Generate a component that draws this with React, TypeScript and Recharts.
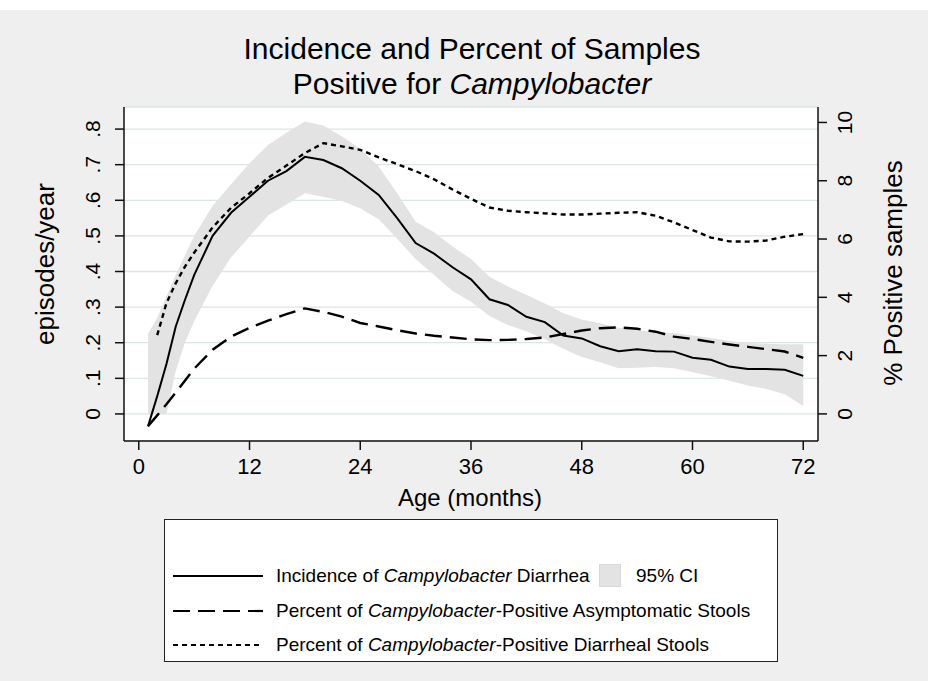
import React from 'react';
import {
  Area,
  CartesianGrid,
  ComposedChart,
  Label,
  Legend,
  Line,
  XAxis,
  YAxis,
} from 'recharts';

// age in months
const months = [1, 2, 3, 4, 5, 6, 8, 10, 12, 14, 16, 18, 20, 22, 24, 26, 28, 30, 32, 34, 36, 38, 40, 42, 44, 46, 48, 50, 52, 54, 56, 58, 60, 62, 64, 66, 68, 70, 72];

// episodes/year (left axis)
const incidence = [-0.035, 0.05, 0.14, 0.245, 0.32, 0.39, 0.5, 0.565, 0.61, 0.655, 0.682, 0.722, 0.713, 0.69, 0.655, 0.615, 0.55, 0.48, 0.45, 0.412, 0.378, 0.322, 0.306, 0.273, 0.258, 0.22, 0.212, 0.19, 0.176, 0.182, 0.176, 0.175, 0.158, 0.152, 0.133, 0.126, 0.126, 0.124, 0.107];
const ciLow = [0, 0, 0, 0.12, 0.2, 0.26, 0.36, 0.44, 0.498, 0.557, 0.588, 0.62, 0.61, 0.598, 0.578, 0.547, 0.492, 0.435, 0.39, 0.345, 0.315, 0.275, 0.25, 0.232, 0.21, 0.183, 0.16, 0.145, 0.128, 0.13, 0.132, 0.128, 0.118, 0.106, 0.093, 0.08, 0.07, 0.055, 0.022];
const ciHigh = [0.225, 0.27, 0.33, 0.39, 0.445, 0.5, 0.585, 0.645, 0.704, 0.755, 0.79, 0.821, 0.81, 0.78, 0.745, 0.695, 0.62, 0.54, 0.51, 0.47, 0.435, 0.385, 0.358, 0.335, 0.31, 0.283, 0.265, 0.255, 0.242, 0.235, 0.23, 0.227, 0.22, 0.213, 0.205, 0.199, 0.197, 0.196, 0.196];

// % positive samples (right axis)
const asymptomatic = [-0.42, -0.05, 0.33, 0.73, 1.14, 1.55, 2.2, 2.65, 2.95, 3.2, 3.42, 3.62, 3.5, 3.34, 3.12, 3.0, 2.87, 2.76, 2.68, 2.62, 2.56, 2.53, 2.54, 2.57, 2.62, 2.74, 2.86, 2.94, 2.97, 2.92, 2.82, 2.65, 2.57, 2.47, 2.38, 2.3, 2.22, 2.14, 1.92];
const diarrheal = [null, 2.7, 3.8, 4.48, 5.05, 5.53, 6.4, 7.07, 7.57, 8.1, 8.52, 8.95, 9.29, 9.18, 9.06, 8.8, 8.57, 8.33, 8.05, 7.7, 7.38, 7.08, 6.97, 6.92, 6.88, 6.84, 6.84, 6.87, 6.9, 6.92, 6.8, 6.57, 6.31, 6.05, 5.92, 5.91, 5.95, 6.08, 6.17];

const xTicks = [0, 12, 24, 36, 48, 60, 72];
const leftTicks = [0, 0.1, 0.2, 0.3, 0.4, 0.5, 0.6, 0.7, 0.8];
const rightTicks = [0, 2, 4, 6, 8, 10];

const rows = months.map((m, i) => ({
  month: m,
  inc: incidence[i],
  ci: [ciLow[i], ciHigh[i]],
  asym: asymptomatic[i],
  diar: diarrheal[i],
}));

const FONT = '"Liberation Sans", Arial, Helvetica, sans-serif';
const BG = '#efefef';
const BAND = '#e3e3e3';

function fmtLeft(v: number) {
  if (v === 0) return '0';
  return v.toFixed(1).replace(/^0/, '');
}

function LeftTick(props: any) {
  const { x, y, payload } = props;
  return (
    <text x={x} y={y} transform={`rotate(-90, ${x}, ${y})`} textAnchor="middle" fontSize={21} fill="#000">
      {fmtLeft(payload.value)}
    </text>
  );
}

function RightTick(props: any) {
  const { x, y, payload } = props;
  return (
    <text x={x} y={y} transform={`rotate(-90, ${x}, ${y})`} textAnchor="middle" fontSize={21} fill="#000">
      {payload.value}
    </text>
  );
}

function LeftTitle(props: any) {
  const vb = props.viewBox;
  const x = vb.x + 54;
  const y = vb.y + vb.height / 2 - 10;
  return (
    <text x={x} y={y} transform={`rotate(-90, ${x}, ${y})`} textAnchor="middle" fontSize={26} fill="#000">
      episodes/year
    </text>
  );
}

function RightTitle(props: any) {
  const vb = props.viewBox;
  const x = vb.x + 84;
  const y = vb.y + vb.height / 2 - 1;
  return (
    <text x={x} y={y} transform={`rotate(-90, ${x}, ${y})`} textAnchor="middle" fontSize={26} fill="#000">
      % Positive samples
    </text>
  );
}

function BottomTitle(props: any) {
  const vb = props.viewBox;
  return (
    <text x={vb.x + vb.width / 2 - 1} y={vb.y + 65} textAnchor="middle" fontSize={24} fill="#000">
      Age (months)
    </text>
  );
}

const legendRows = [
  { top: 56, dash: undefined, label: <>Incidence of <i>Campylobacter</i> Diarrhea</> },
  { top: 91, dash: '17 8', label: <>Percent of <i>Campylobacter</i>-Positive Asymptomatic Stools</> },
  { top: 125, dash: '5 4', label: <>Percent of <i>Campylobacter</i>-Positive Diarrheal Stools</> },
];

function LegendBox() {
  return (
    <div
      style={{
        position: 'relative',
        width: '100%',
        height: '100%',
        boxSizing: 'border-box',
        background: '#fff',
        border: '1.5px solid #222',
        fontFamily: FONT,
        fontSize: 19,
        color: '#000',
      }}
    >
      {legendRows.map((r, i) => (
        <div key={i} style={{ position: 'absolute', left: 0, top: r.top - 12, height: 24, width: '100%' }}>
          <svg width={92} height={24} style={{ position: 'absolute', left: 8, top: 0 }}>
            <line x1={0} y1={12} x2={90} y2={12} stroke="#000" strokeWidth={2.2} strokeDasharray={r.dash} />
          </svg>
          <span style={{ position: 'absolute', left: 111, top: 0, lineHeight: '24px', whiteSpace: 'nowrap' }}>{r.label}</span>
        </div>
      ))}
      <div
        style={{
          position: 'absolute',
          left: 434,
          top: 44,
          width: 20,
          height: 21,
          background: BAND,
          border: '1px solid #d8d8d8',
        }}
      />
      <span style={{ position: 'absolute', left: 471, top: 44, lineHeight: '24px' }}>95% CI</span>
    </div>
  );
}

export default function App() {
  return (
    <div style={{ position: 'absolute', left: 0, top: 0, width: 928, height: 681, background: BG, fontFamily: FONT }}>
      <div style={{ position: 'absolute', left: 0, top: 0, width: 928, height: 10, background: '#fff' }} />
      <div style={{ position: 'absolute', left: 0, top: 0 }}>
        <ComposedChart width={928} height={681} data={rows} margin={{ top: 107, right: 0, bottom: 0, left: 0 }}>
          <CartesianGrid yAxisId="left" vertical={false} stroke="#dae6e7" strokeWidth={1.3} fill="#fff" fillOpacity={1} />
          <XAxis
            dataKey="month"
            type="number"
            domain={[-1.6, 73.6]}
            ticks={xTicks}
            interval={0}
            allowDataOverflow
            height={240}
            tickSize={9}
            tickMargin={8}
            axisLine={{ stroke: '#111', strokeWidth: 1.5 }}
            tickLine={{ stroke: '#111', strokeWidth: 1.5 }}
            tick={{ fontSize: 22, fill: '#000' }}
          >
            <Label content={BottomTitle} />
          </XAxis>
          <YAxis
            yAxisId="left"
            width={124}
            domain={[-0.076, 0.862]}
            ticks={leftTicks}
            interval={0}
            allowDataOverflow
            tickSize={9}
            tickMargin={15}
            axisLine={{ stroke: '#111', strokeWidth: 1.5 }}
            tickLine={{ stroke: '#111', strokeWidth: 1.5 }}
            tick={LeftTick}
          >
            <Label content={LeftTitle} />
          </YAxis>
          <YAxis
            yAxisId="right"
            orientation="right"
            width={110}
            domain={[-0.93, 10.53]}
            ticks={rightTicks}
            interval={0}
            allowDataOverflow
            tickSize={9}
            tickMargin={25}
            axisLine={{ stroke: '#111', strokeWidth: 1.5 }}
            tickLine={{ stroke: '#111', strokeWidth: 1.5 }}
            tick={RightTick}
          >
            <Label content={RightTitle} />
          </YAxis>
          <Area
            yAxisId="left"
            type="linear"
            dataKey="ci"
            stroke="none"
            fill={BAND}
            fillOpacity={1}
            isAnimationActive={false}
            legendType="none"
          />
          <Line
            yAxisId="right"
            type="linear"
            dataKey="diar"
            stroke="#000"
            strokeWidth={2.4}
            strokeDasharray="5 4"
            dot={false}
            isAnimationActive={false}
          />
          <Line
            yAxisId="right"
            type="linear"
            dataKey="asym"
            stroke="#000"
            strokeWidth={2.4}
            strokeDasharray="17 8"
            dot={false}
            isAnimationActive={false}
          />
          <Line
            yAxisId="left"
            type="linear"
            dataKey="inc"
            stroke="#000"
            strokeWidth={2}
            dot={false}
            isAnimationActive={false}
          />
          <Legend
            verticalAlign="middle"
            layout="horizontal"
            content={LegendBox}
            wrapperStyle={{ left: 164, top: 519, width: 614, height: 143 }}
          />
        </ComposedChart>
      </div>
      <svg width={928} height={110} style={{ position: 'absolute', left: 0, top: 0, pointerEvents: 'none' }}>
        <text x={472} y={59} textAnchor="middle" fontSize={30} fill="#000" fontFamily={FONT}>
          Incidence and Percent of Samples
        </text>
        <text x={472} y={94} textAnchor="middle" fontSize={30} fill="#000" fontFamily={FONT}>
          Positive for <tspan fontStyle="italic">Campylobacter</tspan>
        </text>
      </svg>
    </div>
  );
}
